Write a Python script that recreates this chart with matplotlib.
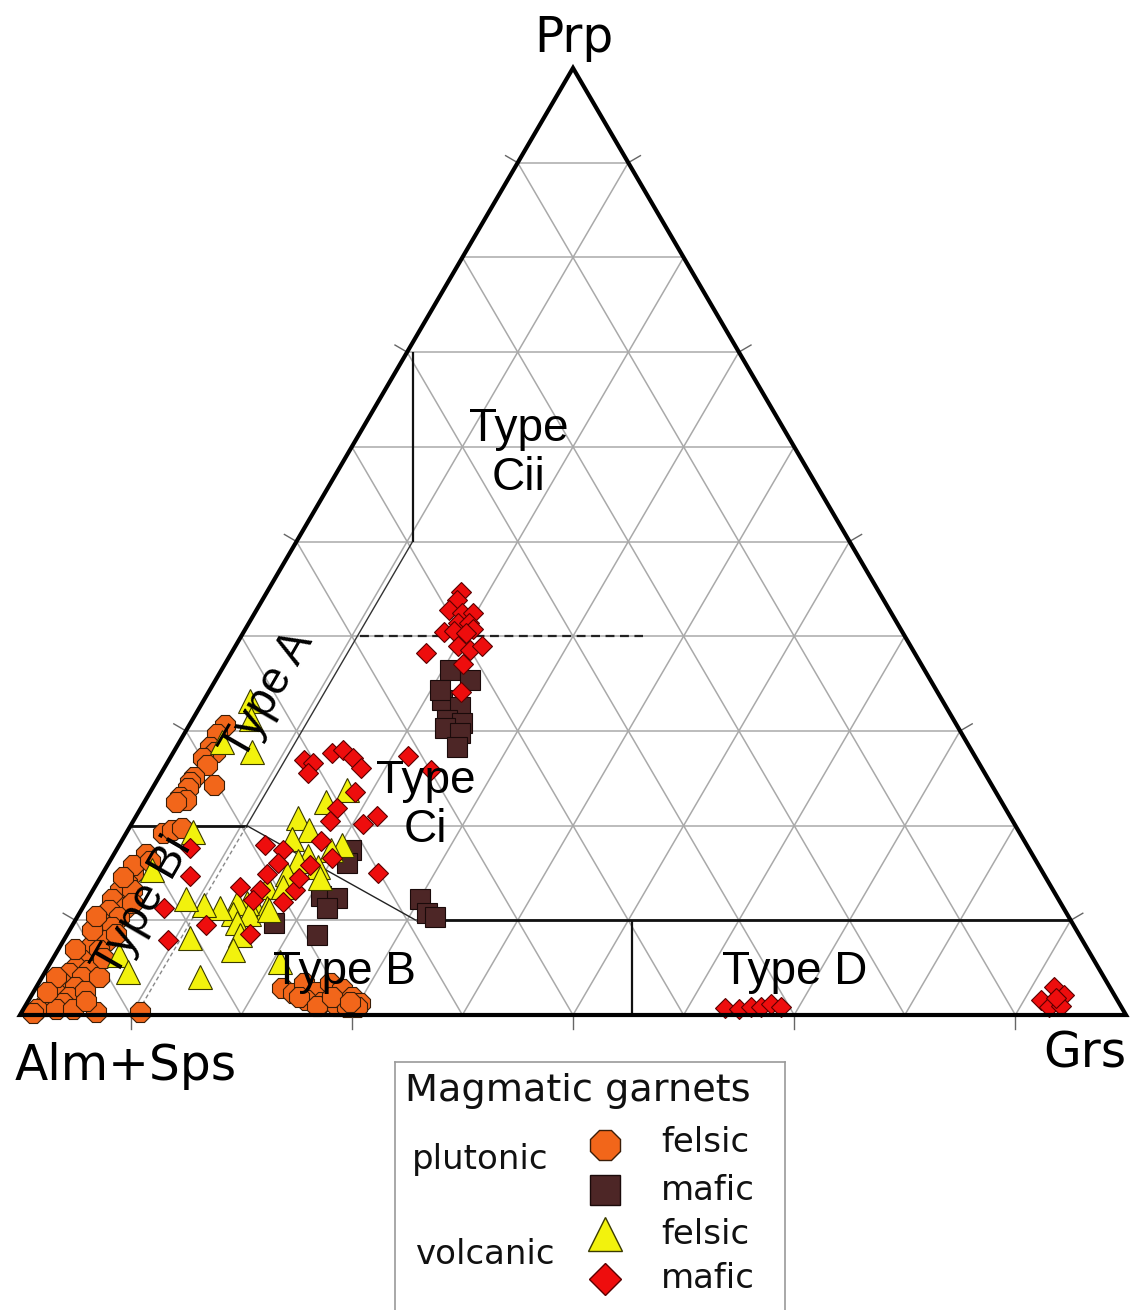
import numpy as np
import matplotlib.pyplot as plt
from matplotlib.patches import Polygon

W, H = 1130, 1310
DPI = 100

# garnet compositions in mol% end-members: (Grs, Prp); Alm+Sps is the remainder
plut_felsic_grs = [3.2, 3.0, 3.0, 3.7, 3.0, 3.7, 3.2, 3.1, 5.4, 3.2, 3.0, 3.7, 2.9,
                   3.3, 4.0, 4.8,
                   2.9, 2.7, 2.7, 2.4, 3.5, 2.2, 3.9, 2.5, 3.8, 2.6, 3.7, 2.8, 3.9,
                   2.7, 3.7, 2.7, 2.5, 3.8, 2.2, 3.6, 5.1, 2.1, 3.5, 2.1, 3.5, 1.8,
                   3.2, 1.6, 1.2, 3.0, 4.5, 6.7, 10.7, 1.1, 1.3, 1.5, 2.0, 4.5, 4.6,
                   2.3, 3.6, 1.2, 1.6, 4.2, 4.4, 2.0, 5.2,
                   22.2, 23.5, 24.0, 25.6, 26.3, 27.8, 29.1, 30.1, 25.1, 26.6, 28.2,
                   29.2, 30.1, 24.3, 26.4, 27.3, 29.1]
plut_felsic_prp = [30.6, 29.7, 28.3, 27.8, 27.1, 26.4, 25.1, 24.6, 24.3, 24.0, 23.0, 22.7, 22.5,
                   19.2, 19.5, 19.7,
                   17.0, 15.0, 13.9, 13.2, 13.2, 12.3, 11.4, 11.1, 10.3, 9.7, 9.3, 8.2, 7.9,
                   7.1, 6.9, 5.8, 5.1, 4.8, 4.4, 4.0, 4.0, 3.4, 3.0, 2.3, 1.9, 1.6,
                   1.3, 0.9, 0.6, 0.6, 0.6, 0.3, 0.3, 0.2, 4.0, 7.0, 9.0, 6.0, 2.5,
                   15.8, 16.3, 2.4, 10.5, 11.8, 8.6, 14.6, 1.5,
                   2.9, 2.3, 3.4, 2.4, 3.4, 2.7, 1.9, 1.3, 1.6, 1.4, 0.9,
                   0.8, 0.8, 1.9, 0.9, 1.9, 1.4]

plut_mafic_grs = [20.7, 23.0, 21.5, 23.5, 23.0, 24.6, 23.3, 24.9, 25.4, 20.8,
                  21.2, 21.5, 20.9, 22.5, 22.1, 18.1, 22.6, 30.1, 31.4, 32.3]
plut_mafic_prp = [36.4, 35.4, 33.3, 32.5, 31.2, 30.8, 30.3, 29.8, 28.3, 34.3,
                  17.4, 16.1, 12.6, 12.4, 11.3, 9.7, 8.5, 12.2, 10.8, 10.4]

volc_felsic_grs = [4.2, 5.2, 3.9, 7.1, 6.0, 4.3, 5.8, 7.5,
                   17.7, 16.4, 14.7, 16.4, 15.3, 20.2, 19.4, 17.6, 17.0, 19.1, 16.7,
                   19.9, 15.6, 17.0, 15.2, 16.7, 14.6, 13.7, 13.9, 12.4, 10.8, 8.9,
                   15.4, 14.8, 15.7, 15.8, 11.3, 14.3, 20.7, 17.0]
volc_felsic_prp = [33.2, 31.3, 28.8, 27.8, 19.3, 15.3, 6.3, 4.5,
                   23.8, 22.5, 20.8, 19.5, 18.6, 17.9, 17.4, 16.8, 16.3, 15.6, 14.9,
                   14.5, 13.5, 13.5, 11.8, 11.3, 11.8, 11.8, 10.7, 11.3, 11.6, 12.3,
                   10.7, 9.7, 8.4, 6.9, 8.1, 4.0, 5.6, 11.1]

volc_mafic_grs = [17.5, 17.6, 17.4, 18.8, 19.7, 18.9, 19.9, 20.6, 18.1, 18.9, 20.2,
                  20.1, 21.4, 22.3, 21.5, 17.6, 22.8, 21.4,
                  12.2, 13.2, 13.2, 14.4, 15.2, 16.6, 17.8, 24.2, 18.5, 17.7, 17.8,
                  20.9, 21.8, 13.2, 15.1, 18.0, 19.9, 15.3, 14.9, 6.6, 8.0, 24.9,
                  18.3, 15.1, 15.0, 17.8, 13.1, 12.1, 16.5, 7.4, 9.4, 18.0, 18.3,
                  63.4, 64.7, 65.7, 66.6, 67.3, 68.4,
                  92.0, 93.3, 91.5, 92.6, 93.7, 92.8]
volc_mafic_prp = [44.7, 43.8, 42.8, 42.4, 42.5, 41.4, 41.4, 40.8, 40.4, 40.6, 40.3,
                  39.0, 38.5, 39.0, 37.1, 38.2, 34.1, 27.4,
                  26.9, 26.6, 25.6, 27.7, 28.0, 27.1, 26.1, 25.9, 23.5, 21.9, 20.5,
                  20.2, 21.0, 17.9, 17.4, 18.4, 16.6, 16.0, 14.9, 17.6, 14.7, 15.0,
                  13.2, 13.2, 12.1, 11.9, 13.5, 9.5, 8.6, 11.3, 7.9, 14.5, 15.8,
                  0.7, 0.6, 0.8, 0.8, 1.2, 0.8,
                  3.0, 2.1, 1.6, 0.8, 0.9, 1.8]

grid_steps = [10, 20, 30, 40, 50, 60, 70, 80, 90]
tick_steps = [10, 30, 50, 70, 90]

# field boundaries as (Grs, Prp) vertices
field_solid = [
    ([0.5, 10.5], [70, 50], 1.6, '#111111'),
    ([10.5, 10.5], [50, 20], 1.0, '#333333'),
    ([0, 10.5], [20, 20], 2.0, '#111111'),
    ([10.5, 30.8], [20, 10], 1.0, '#222222'),
    ([30.8, 90], [10, 10], 2.0, '#111111'),
    ([50.3, 55.3], [10, 0], 1.6, '#111111'),
]
field_dashed_prp40 = ([10.7, 36.3], [40, 40])
field_dashed_bi = ([10.5, 10.5], [0.5, 20])

# axis scale: ternary x spans 1106 px, Prp 947 px; bottom edge at 1015 px from top
X0, Y0, SX, SY = 20, 1015, 1106, 947


def tern(grs, prp):
    g = np.asarray(grs, float) / 100
    p = np.asarray(prp, float) / 100
    return g + p / 2, p


fig = plt.figure(figsize=(W / DPI, H / DPI), dpi=DPI)
ax = fig.add_axes([0, 0, 1, 1])
ax.set_xlim(-X0 / SX, (W - X0) / SX)
ax.set_ylim(-(H - Y0) / SY, Y0 / SY)
ax.axis('off')

# grid
for v in grid_steps:
    f = v / 100
    for g, p in (([0, 1 - f], [f, f]),
                 ([f, f], [0, 1 - f]),
                 ([1 - f, 0], [0, 1 - f])):
        x, y = tern(np.array(g) * 100, np.array(p) * 100)
        ax.plot(x, y, color='#a9a9a9', lw=1.1, zorder=1)

# ticks on the three sides, pointing outwards
tl = 14
for v in tick_steps:
    f = v / 100
    for (bx, by), (nx, ny) in (((f, 0), (0, -1)),
                               ((f / 2, f), (-0.864, 0.504)),
                               ((1 - f / 2, f), (0.864, 0.504))):
        ax.plot([bx, bx + nx * tl / SX], [by, by + ny * tl / SY],
                color='#666666', lw=1.0, zorder=2)

for g, p, lw, c in field_solid:
    x, y = tern(g, p)
    ax.plot(x, y, color=c, lw=lw, zorder=2, solid_capstyle='butt')
x, y = tern(*field_dashed_prp40)
ax.plot(x, y, color='#222222', lw=1.6, ls=(0, (4, 2.5)), zorder=2)
x, y = tern(*field_dashed_bi)
ax.plot(x, y, color='#888888', lw=1.0, ls=(0, (3, 2)), zorder=2)

outline = Polygon([[0, 0], [1, 0], [0.5, 1]], closed=True, fill=False,
                  ec='black', lw=3.0, joinstyle='miter', zorder=8)
ax.add_patch(outline)

x, y = tern(plut_felsic_grs, plut_felsic_prp)
ax.plot(x, y, ls='none', marker='8', ms=15.5, mfc='#f2661a', mec='#3b1e08', mew=0.8, zorder=3)
x, y = tern(plut_mafic_grs, plut_mafic_prp)
ax.plot(x, y, ls='none', marker='s', ms=15, mfc='#4d2626', mec='#1a0a0a', mew=0.8, zorder=4)
x, y = tern(volc_felsic_grs, volc_felsic_prp)
ax.plot(x, y, ls='none', marker='^', ms=17, mfc='#f2f20d', mec='#3a3a00', mew=0.8, zorder=5)
x, y = tern(volc_mafic_grs, volc_mafic_prp)
ax.plot(x, y, ls='none', marker='D', ms=10.5, mfc='#ee0d0d', mec='#5a0000', mew=0.8, zorder=6)

# field names
fkw = dict(family='Liberation Sans', fontsize=33, ha='center', va='center',
           zorder=10, linespacing=1.15)
for txt, g, p, rot in (('Type\nCii', 15.4, 59.3, 0), ('Type\nCi', 25.6, 22.1, 0),
                       ('Type B', 27.1, 4.5, 0), ('Type D', 67.8, 4.5, 0),
                       ('Type A', 5.5, 33.8, 60), ('Type Bi', 5.4, 11.4, 60)):
    x, y = tern(g, p)
    ax.text(x, y, txt, rotation=rot, rotation_mode='anchor', **fkw)

# apex labels
vkw = dict(family='DejaVu Sans', fontsize=35, va='baseline')
fig.text(574 / W, 1 - 52 / H, 'Prp', ha='center', **vkw)
fig.text(15 / W, 1 - 1080 / H, 'Alm+Sps', ha='left', **vkw)
fig.text(1126 / W, 1 - 1068 / H, 'Grs', ha='right', **vkw)

# key box
lax = fig.add_axes([395 / W, 0, 390 / W, (H - 1062) / H])
lax.set_xlim(395, 785)
lax.set_ylim(H, 1062)
lax.set_xticks([])
lax.set_yticks([])
for s in ('top', 'left', 'right'):
    lax.spines[s].set_color('#9a9a9a')
    lax.spines[s].set_linewidth(1.2)
lax.spines['bottom'].set_visible(False)

lkw = dict(family='DejaVu Sans', va='center', color='#111111')
lax.text(405, 1091, 'Magmatic garnets', fontsize=27.5, ha='left', **lkw)
lax.text(412, 1160, 'plutonic', fontsize=24.5, ha='left', **lkw)
lax.text(416, 1255, 'volcanic', fontsize=24.5, ha='left', **lkw)
for yy, txt in ((1143, 'felsic'), (1190, 'mafic'), (1234, 'felsic'), (1279, 'mafic')):
    lax.text(661, yy, txt, fontsize=24.5, ha='left', **lkw)
lax.plot([605], [1145], marker='8', ms=24, mfc='#f2661a', mec='#3b1e08', mew=1.0)
lax.plot([605], [1190], marker='s', ms=22, mfc='#4d2626', mec='#1a0a0a', mew=1.0)
lax.plot([605], [1234], marker='^', ms=24, mfc='#f2f20d', mec='#3a3a00', mew=1.0)
lax.plot([605], [1279], marker='D', ms=16, mfc='#ee0d0d', mec='#5a0000', mew=1.0)

fig.savefig('out.png', dpi=DPI)
